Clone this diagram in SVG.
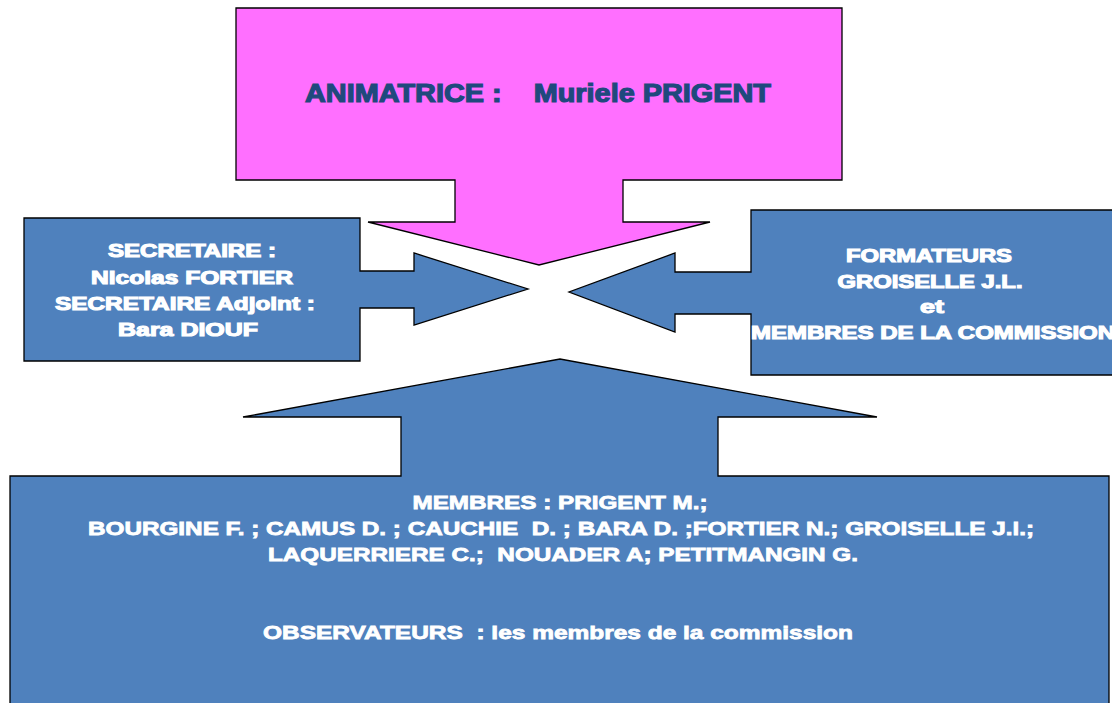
<svg xmlns="http://www.w3.org/2000/svg" width="1112" height="703" viewBox="0 0 1112 703">
<style>
.shape{stroke:#000;stroke-width:1.3;stroke-linejoin:miter}
.pink{fill:#FF6FFF}
.blue{fill:#4F81BD}
.t{font-family:"Liberation Sans",Arial,sans-serif;font-weight:bold;text-anchor:middle;white-space:pre}
.w{fill:#fff;stroke:#fff;stroke-width:1.1;font-size:18px}
.wb{fill:#fff;stroke:#fff;stroke-width:0.8;font-size:19px}
.d{fill:#1F497D;stroke:#1F497D;stroke-width:1.2;font-size:25px}
</style>
<rect width="1112" height="703" fill="#fff"/>
<g id="animatrice">
<path class="shape pink" d="M236,8 H842 V180 H623 V222 H710 L539,265 L368,222 H455 V180 H236 Z"/>
<text class="t d" xml:space="preserve" x="538" y="102" textLength="466" lengthAdjust="spacingAndGlyphs">ANIMATRICE :    Muriele PRIGENT</text>
</g>
<g id="secretaire">
<path class="shape blue" d="M24,218 H360 V271 H414 V253 L528,289 L414,325 V308 H360 V361 H24 Z"/>
<text class="t w" x="192" y="257" textLength="168" lengthAdjust="spacingAndGlyphs">SECRETAIRE :</text>
<text class="t w" x="192" y="284" textLength="202" lengthAdjust="spacingAndGlyphs">Nicolas FORTIER</text>
<text class="t w" x="185" y="310" textLength="260" lengthAdjust="spacingAndGlyphs">SECRETAIRE Adjoint :</text>
<text class="t w" x="188" y="336" textLength="140" lengthAdjust="spacingAndGlyphs">Bara DIOUF</text>
</g>
<g id="formateurs">
<path class="shape blue" d="M751,210 H1120 V375 H751 V314 H675 V332 L569,292 L675,253 V272 H751 Z"/>
<text class="t w" x="929" y="262" textLength="166" lengthAdjust="spacingAndGlyphs">FORMATEURS</text>
<text class="t w" x="930" y="288" textLength="185" lengthAdjust="spacingAndGlyphs">GROISELLE J.L.</text>
<text class="t w" x="932" y="313" textLength="24" lengthAdjust="spacingAndGlyphs">et</text>
<text class="t w" x="933" y="339" textLength="364" lengthAdjust="spacingAndGlyphs">MEMBRES DE LA COMMISSION</text>
</g>
<g id="membres">
<path class="shape blue" d="M10,476 H401 V417 H243 L560,359 L877,417 H718 V476 H1109 V712 H10 Z"/>
<text class="t wb" x="560" y="509" textLength="295" lengthAdjust="spacingAndGlyphs">MEMBRES : PRIGENT M.;</text>
<text class="t wb" xml:space="preserve" x="561" y="535" textLength="946" lengthAdjust="spacingAndGlyphs">BOURGINE F. ; CAMUS D. ; CAUCHIE  D. ; BARA D. ;FORTIER N.; GROISELLE J.l.;</text>
<text class="t wb" xml:space="preserve" x="563" y="561" textLength="590" lengthAdjust="spacingAndGlyphs">LAQUERRIERE C.;  NOUADER A; PETITMANGIN G.</text>
<text class="t wb" xml:space="preserve" x="558" y="639" textLength="590" lengthAdjust="spacingAndGlyphs">OBSERVATEURS  : les membres de la commission</text>
</g>
<g id="connectors"/>
</svg>
